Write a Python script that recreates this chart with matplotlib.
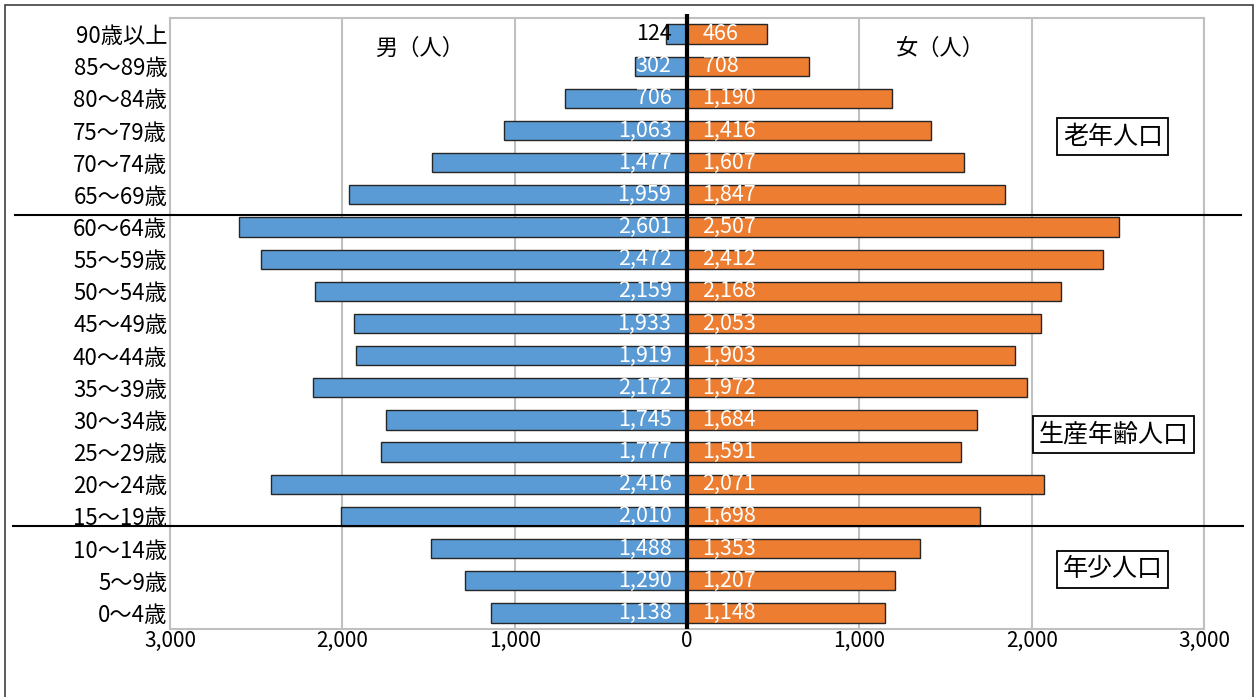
import numpy as np
import matplotlib.pyplot as plt
from matplotlib.patches import Rectangle
from matplotlib.transforms import blended_transform_factory
from matplotlib.ticker import FuncFormatter

plt.rcParams['font.family'] = ['Noto Sans CJK JP', 'DejaVu Sans']

ages = ["90歳以上", "85～89歳", "80～84歳", "75～79歳", "70～74歳", "65～69歳",
        "60～64歳", "55～59歳", "50～54歳", "45～49歳", "40～44歳", "35～39歳",
        "30～34歳", "25～29歳", "20～24歳", "15～19歳", "10～14歳", "5～9歳", "0～4歳"]
male = [124, 302, 706, 1063, 1477, 1959, 2601, 2472, 2159, 1933,
        1919, 2172, 1745, 1777, 2416, 2010, 1488, 1290, 1138]
female = [466, 708, 1190, 1416, 1607, 1847, 2507, 2412, 2168, 2053,
          1903, 1972, 1684, 1591, 2071, 1698, 1353, 1207, 1148]
x_ticks = [-3000, -2000, -1000, 0, 1000, 2000, 3000]

BLUE = "#5B9BD5"
ORANGE = "#ED7D31"
GRID = "#C0C0C0"

fig = plt.figure(figsize=(12.58, 6.97), dpi=100)
ax = fig.add_axes([0.1351, 0.0976, 0.822, 0.8766])

y = np.arange(len(ages))
ax.barh(y, -np.array(male), height=0.6, color=BLUE, edgecolor="#262626",
        linewidth=1, zorder=3)
ax.barh(y, female, height=0.6, color=ORANGE, edgecolor="#262626",
        linewidth=1, zorder=3)

ax.set_xlim(-3000, 3000)
ax.set_ylim(len(ages) - 0.5, -0.5)
ax.set_yticks(y)
ax.set_yticklabels(ages, fontsize=16)
ax.set_xticks(x_ticks)
ax.xaxis.set_major_formatter(FuncFormatter(lambda v, p: f"{abs(int(v)):,}"))
ax.tick_params(axis="x", labelsize=15, length=0, pad=1)
ax.tick_params(axis="y", length=0, pad=2)

ax.grid(axis="x", color=GRID, linewidth=1.5, zorder=0)
for s in ax.spines.values():
    s.set_color(GRID)
    s.set_linewidth(1.5)

# value labels near the centre line
for i, (m, f) in enumerate(zip(male, female)):
    mc = "black" if m < 200 else "white"
    ax.text(-90, i, f"{m:,}", ha="right", va="center", fontsize=15.5,
            color=mc, zorder=5)
    ax.text(90, i, f"{f:,}", ha="left", va="center", fontsize=15.5,
            color="white", zorder=5)

# centre axis line
ax.plot([0, 0], [-0.62, len(ages) - 0.5], color="black", linewidth=3,
        clip_on=False, zorder=6, solid_capstyle="butt")

# group separator lines across the whole figure
tr = blended_transform_factory(fig.transFigure, ax.transData)
ax.plot([15 / 1258, 1241 / 1258], [5.625, 5.625], color="black", lw=1.5,
        transform=tr, clip_on=False, zorder=7)
ax.plot([13 / 1258, 1243 / 1258], [15.3, 15.3], color="black", lw=1.5,
        transform=tr, clip_on=False, zorder=7)

ax.text(-1550, 0.45, "男（人）", ha="center", va="center", fontsize=16)
ax.text(1470, 0.45, "女（人）", ha="center", va="center", fontsize=16)

box = dict(boxstyle="square,pad=0.22", facecolor="white", edgecolor="black",
           linewidth=1.3)
ax.text(2470, 3.2, "老年人口", ha="center", va="center", fontsize=18,
        bbox=box, zorder=8)
ax.text(2475, 12.45, "生産年齢人口", ha="center", va="center", fontsize=18,
        bbox=box, zorder=8)
ax.text(2470, 16.65, "年少人口", ha="center", va="center", fontsize=18,
        bbox=box, zorder=8)

# outer frame
fig.patches.append(Rectangle((5 / 1258, -0.02), 1248 / 1258, 1.02 - 5 / 697,
                             transform=fig.transFigure, fill=False,
                             edgecolor="#404040", linewidth=1.2))

fig.savefig("out.png", dpi=100)
